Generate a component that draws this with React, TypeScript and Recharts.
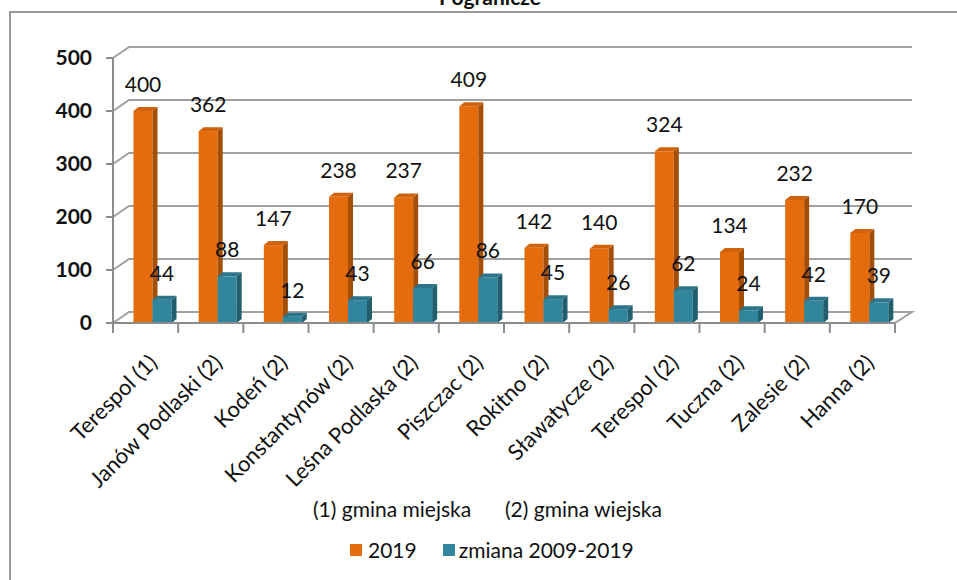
import React from 'react';
import { BarChart, Bar, XAxis, YAxis, CartesianGrid, LabelList } from 'recharts';

const categories = [
  'Terespol (1)', 'Janów Podlaski (2)', 'Kodeń (2)', 'Konstantynów (2)', 'Leśna Podlaska (2)', 'Piszczac (2)',
  'Rokitno (2)', 'Sławatycze (2)', 'Terespol (2)', 'Tuczna (2)', 'Zalesie (2)', 'Hanna (2)',
];
const values2019 = [400, 362, 147, 238, 237, 409, 142, 140, 324, 134, 232, 170];
const valuesChange = [44, 88, 12, 43, 66, 86, 45, 26, 62, 24, 42, 39];
const yTicks = [0, 100, 200, 300, 400, 500];
const seriesNames = ['2019', 'zmiana 2009-2019'];
const footnotes = ['(1) gmina miejska', '(2) gmina wiejska'];

const data = categories.map((name, i) => ({ name, v2019: values2019[i], change: valuesChange[i] }));

const FONT = 'Lato, "Open Sans", sans-serif';
const SHIFT = 6.5; // bars sit a bit right of the band (3D depth)
const DX = 5;
const DY = 4;

const Box3D = (props: any) => {
  const { x, y, width, height, front, side, top } = props;
  if (height == null || width == null) return null;
  const fx = x + SHIFT;
  return (
    <g>
      <rect x={fx} y={y} width={width} height={height} fill={front} />
      <polygon
        points={`${fx + width},${y} ${fx + width + DX},${y - DY} ${fx + width + DX},${y + height - DY} ${fx + width},${y + height}`}
        fill={side}
      />
      <polygon
        points={`${fx},${y} ${fx + DX},${y - DY} ${fx + width + DX},${y - DY} ${fx + width},${y}`}
        fill={top}
      />
    </g>
  );
};

const ValueLabel = (props: any) => {
  const { x, y, width, value } = props;
  return (
    <text x={x + SHIFT + width / 2} y={y - 19} textAnchor="middle" fontFamily={FONT} fontSize={21} fill="#111">
      {value}
    </text>
  );
};

const CategoryTick = (props: any) => {
  const { x, y, payload, index } = props;
  const half = payload && payload.offset ? payload.offset : 32.6;
  const last = index === categories.length - 1;
  const ax = x + 13;
  const ay = y + 41;
  return (
    <g>
      <line x1={x - half} y1={y} x2={x - half} y2={y + 10} stroke="#8c8c8c" strokeWidth={2} />
      {last && <line x1={x + half} y1={y} x2={x + half} y2={y + 10} stroke="#8c8c8c" strokeWidth={2} />}
      <text
        x={ax}
        y={ay}
        transform={`rotate(-45, ${ax}, ${ay})`}
        textAnchor="end"
        fontFamily={FONT}
        fontSize={22}
        fill="#111"
      >
        {payload.value}
      </text>
    </g>
  );
};

const BackGridLine = (props: any) => {
  const { x1, y1, x2, index } = props;
  const isFloor = y1 > 320;
  let d = `M${x1},${y1} L${x1 + 16},${y1 - 11} L${x2 + 17},${y1 - 11}`;
  if (isFloor) d += ` L${x2},${y1}`;
  return <path key={`g-${index}`} d={d} fill="none" stroke="#a0a0a0" strokeWidth={2} />;
};

const App: React.FC = () => {
  return (
    <div style={{ position: 'absolute', left: 0, top: 0, width: 957, height: 580, overflow: 'hidden', background: '#fff', fontFamily: FONT }}>
      <div style={{ position: 'absolute', left: 9, top: 11, width: 1000, height: 1000, border: '2px solid #999' }} />
      <div style={{ position: 'absolute', left: 0, top: -16, width: 980, textAlign: 'center', fontSize: 21, fontWeight: 'bold', color: '#111' }}>
        Pogranicze
      </div>
      <div style={{ position: 'absolute', left: 0, top: 0 }}>
        <BarChart
          width={957}
          height={580}
          data={data}
          margin={{ top: 58, right: 62, left: 0, bottom: 127 }}
          barGap={0}
          barSize={19}
        >
          <CartesianGrid vertical={false} horizontal={BackGridLine as any} />
          <XAxis
            dataKey="name"
            interval={0}
            height={130}
            tickSize={0}
            tickMargin={0}
            tickLine={false}
            axisLine={{ stroke: '#8c8c8c', strokeWidth: 2 }}
            tick={CategoryTick}
          />
          <YAxis
            width={113}
            domain={[0, 500]}
            ticks={yTicks}
            tickSize={7}
            tickMargin={14}
            axisLine={{ stroke: '#8c8c8c', strokeWidth: 2 }}
            tickLine={{ stroke: '#8c8c8c', strokeWidth: 2 }}
            tick={{ fontFamily: FONT, fontSize: 21, fontWeight: 'bold', fill: '#111' }}
          />
          <Bar
            dataKey="v2019"
            name={seriesNames[0]}
            isAnimationActive={false}
            shape={(p: any) => <Box3D {...p} front="#E46C0A" side="#A44E08" top="#CF620A" />}
          >
            <LabelList dataKey="v2019" content={ValueLabel} />
          </Bar>
          <Bar
            dataKey="change"
            name={seriesNames[1]}
            isAnimationActive={false}
            shape={(p: any) => <Box3D {...p} front="#31859C" side="#215E6E" top="#2B7489" />}
          >
            <LabelList dataKey="change" content={ValueLabel} />
          </Bar>
        </BarChart>
      </div>
      <div style={{ position: 'absolute', left: 313, top: 496, fontSize: 21, color: '#111', whiteSpace: 'nowrap' }}>
        {footnotes[0]}
      </div>
      <div style={{ position: 'absolute', left: 505, top: 496, fontSize: 21, color: '#111', whiteSpace: 'nowrap' }}>
        {footnotes[1]}
      </div>
      <div style={{ position: 'absolute', left: 350, top: 537, display: 'flex', alignItems: 'center', fontSize: 21, color: '#111', whiteSpace: 'nowrap' }}>
        <span style={{ width: 12, height: 12, background: '#E46C0A', marginRight: 6 }} />
        <span style={{ marginRight: 26 }}>{seriesNames[0]}</span>
        <span style={{ width: 12, height: 12, background: '#31859C', marginRight: 4 }} />
        <span>{seriesNames[1]}</span>
      </div>
    </div>
  );
};

export default App;
